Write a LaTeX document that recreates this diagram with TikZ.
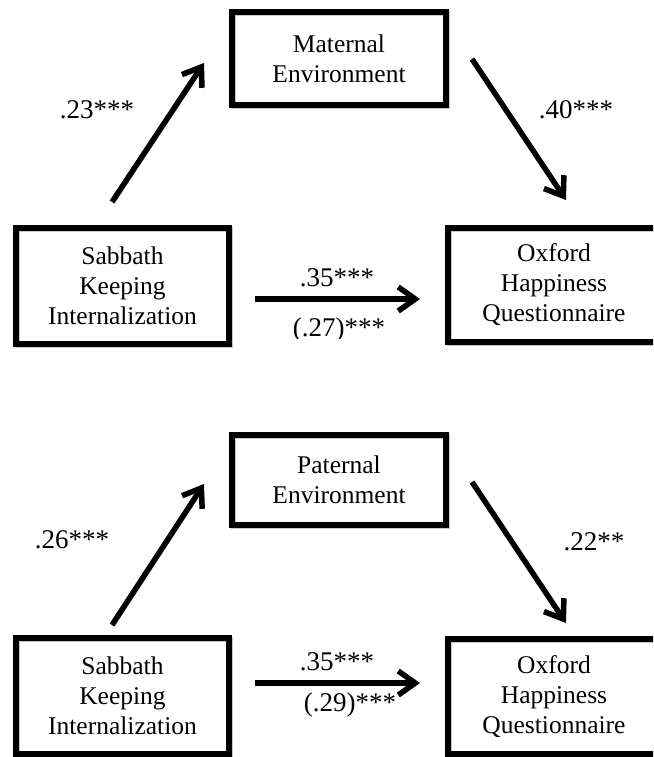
\documentclass[tikz,border=0pt]{standalone}
\usepackage{fontspec}
\setmainfont{Liberation Serif}
\usetikzlibrary{arrows.meta}
\begin{document}
\begin{tikzpicture}[x=1pt,y=-1pt,
  box/.style={draw, line width=5.5pt, align=center, inner sep=0pt,
    font=\fontsize{25.5}{30}\selectfont,
    preaction={draw=black!22, line width=5.5pt, transform canvas={shift={(1.5pt,-1.5pt)}}}},
  lbl/.style={font=\fontsize{27}{30}\selectfont, inner sep=0pt},
  arr/.style={line width=5.5pt, -{Straight Barb[length=17pt,width=24pt]},
    preaction={draw=black!22, transform canvas={shift={(2pt,-2pt)}}}}]
\useasboundingbox (0,0) rectangle (653,757);
\clip (0,0) rectangle (653,757);
% ---------- top diagram ----------
\node[box, minimum width=214pt, minimum height=93pt] (me) at (339,58.5) {Maternal\\Environment};
\node[box, minimum width=213pt, minimum height=116pt] (sk1) at (122.5,286) {Sabbath\\Keeping\\Internalization};
\node[box, minimum width=212pt, minimum height=114pt] (oh1) at (554,285) {Oxford\\Happiness\\Questionnaire};
\coordinate (a1s) at (112,202); \coordinate (a1e) at (204,63);
\coordinate (b1s) at (472,59);  \coordinate (b1e) at (566,200);
\coordinate (c1s) at (255,299); \coordinate (c1e) at (420,299);
\draw[arr] (a1s) -- (a1e);
\draw[arr] (b1s) -- (b1e);
\draw[arr] (c1s) -- (c1e);
\node[lbl] (l1) at (97,110) {.23***};
\node[lbl] (l2) at (576,110) {.40***};
\node[lbl] (l3) at (337,278) {.35***};
\begin{scope}
\clip (280,305) rectangle (400,338);
\node[lbl, anchor=base] (l4) at (339,336) {(.27)***};
\end{scope}
% ---------- bottom diagram ----------
\node[box, minimum width=214pt, minimum height=90pt] (pe) at (339,480) {Paternal\\Environment};
\node[box, minimum width=213pt, minimum height=116pt] (sk2) at (122.5,696) {Sabbath\\Keeping\\Internalization};
\node[box, minimum width=212pt, minimum height=115pt] (oh2) at (554,696.5) {Oxford\\Happiness\\Questionnaire};
\coordinate (a2s) at (112,625); \coordinate (a2e) at (204,484);
\coordinate (b2s) at (472,482); \coordinate (b2e) at (566,623);
\coordinate (c2s) at (255,683); \coordinate (c2e) at (420,683);
\draw[arr] (a2s) -- (a2e);
\draw[arr] (b2s) -- (b2e);
\draw[arr] (c2s) -- (c2e);
\node[lbl] (l5) at (72,540) {.26***};
\node[lbl] (l6) at (594,542) {.22**};
\node[lbl] (l7) at (337,662) {.35***};
\node[lbl] (l8) at (350,705) {(.29)***};
\end{tikzpicture}
\end{document}
